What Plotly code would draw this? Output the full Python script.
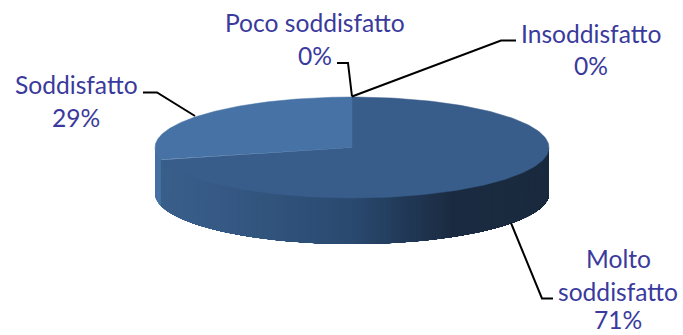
import numpy as np
import plotly.graph_objects as go

categories = ["Molto soddisfatto", "Insoddisfatto", "Poco soddisfatto", "Soddisfatto"]
values = [71, 0, 0, 29]
label_lines = {
    "Molto soddisfatto": ["Molto", "soddisfatto", "71%"],
    "Insoddisfatto": ["Insoddisfatto", "0%"],
    "Poco soddisfatto": ["Poco soddisfatto", "0%"],
    "Soddisfatto": ["Soddisfatto", "29%"],
}

# Style / placement (page pixels)
CX, CY, RX, RY, DEPTH = 352, 147.5, 197, 50.5, 46
TOP_COLORS = {"Molto soddisfatto": "#395d8a", "Soddisfatto": "#4672a5"}
TEXT_COLOR = "#3a3a9c"
FONT = "Lato"
FSIZE = 24.6
label_pos = {
    "Molto soddisfatto": (618, [258, 291, 319]),
    "Insoddisfatto": (591, [33, 65]),
    "Poco soddisfatto": (315, [22, 55]),
    "Soddisfatto": (76, [84, 117]),
}
leaders = {
    "Molto soddisfatto": ([511, 542, 553], [223, 298.5, 298.5]),
    "Insoddisfatto": ([352, 501, 516], [96.5, 40.5, 40.5]),
    "Poco soddisfatto": ([352, 348, 337], [96.5, 63, 63]),
    "Soddisfatto": ([195, 157, 143], [116, 92.5, 92.5]),
}
side_x = [155, 162, 220, 352, 450, 549]
side_rgb = [(70, 114, 165), (58, 95, 139), (54, 90, 133), (42, 74, 112), (27, 44, 66), (26, 42, 62)]


def ex(t):
    return CX + RX * np.cos(np.radians(t))


def ey(t):
    return CY - RY * np.sin(np.radians(t))


fig = go.Figure()
total = sum(values)
angle = 90.0
spans = {}
for c, v in zip(categories, values):
    a2 = angle - 360.0 * v / total
    spans[c] = (angle, a2)
    angle = a2

# side wall: front half of the rim, painted left to right, each piece reaching the right edge
sod_end = spans["Molto soddisfatto"][1] % 360
STEP = 1.0
for t0 in np.arange(180.0, 360.0, STEP):
    tt = np.linspace(t0, 360.0, 200)
    xs = np.r_[ex(tt), ex(tt[::-1])]
    ys = np.r_[ey(tt), ey(tt[::-1]) + DEPTH]
    tm = t0 + STEP / 2
    xm = float(ex(tm))
    if tm < sod_end:
        rgb = side_rgb[0]
    else:
        rgb = [np.interp(xm, side_x[1:], [c[i] for c in side_rgb[1:]]) for i in range(3)]
    col = "rgb(%d,%d,%d)" % tuple(rgb)
    fig.add_trace(go.Scatter(x=xs, y=ys, mode="lines", fill="toself", fillcolor=col,
                             line=dict(width=0), hoverinfo="skip", showlegend=False))

# top face slices
for c, v in zip(categories, values):
    if v == 0:
        continue
    a1, a2 = spans[c]
    tt = np.linspace(a1, a2, 200)
    xs = np.r_[CX, ex(tt), CX]
    ys = np.r_[CY, ey(tt), CY]
    fig.add_trace(go.Scatter(x=xs, y=ys, mode="lines", fill="toself", fillcolor=TOP_COLORS[c],
                             line=dict(color=TOP_COLORS[c], width=0.5), hoverinfo="skip",
                             showlegend=False))

for c in categories:
    lx, ly = leaders[c]
    fig.add_trace(go.Scatter(x=lx, y=ly, mode="lines", line=dict(color="#000000", width=2),
                             hoverinfo="skip", showlegend=False))
    px, pys = label_pos[c]
    for text, py in zip(label_lines[c], pys):
        fig.add_annotation(x=px, y=py, text=text, showarrow=False, xanchor="center", yanchor="middle",
                           font=dict(family=FONT, size=FSIZE, color=TEXT_COLOR))

fig.update_layout(
    width=683, height=335, margin=dict(l=0, r=0, t=0, b=0),
    paper_bgcolor="white", plot_bgcolor="white", showlegend=False,
    xaxis=dict(range=[0, 683], visible=False, fixedrange=True),
    yaxis=dict(range=[335, 0], visible=False, fixedrange=True),
)
fig.write_html("out.html", config={"displayModeBar": False},
               post_script="document.body.style.margin='0';document.body.style.overflow='hidden';")
